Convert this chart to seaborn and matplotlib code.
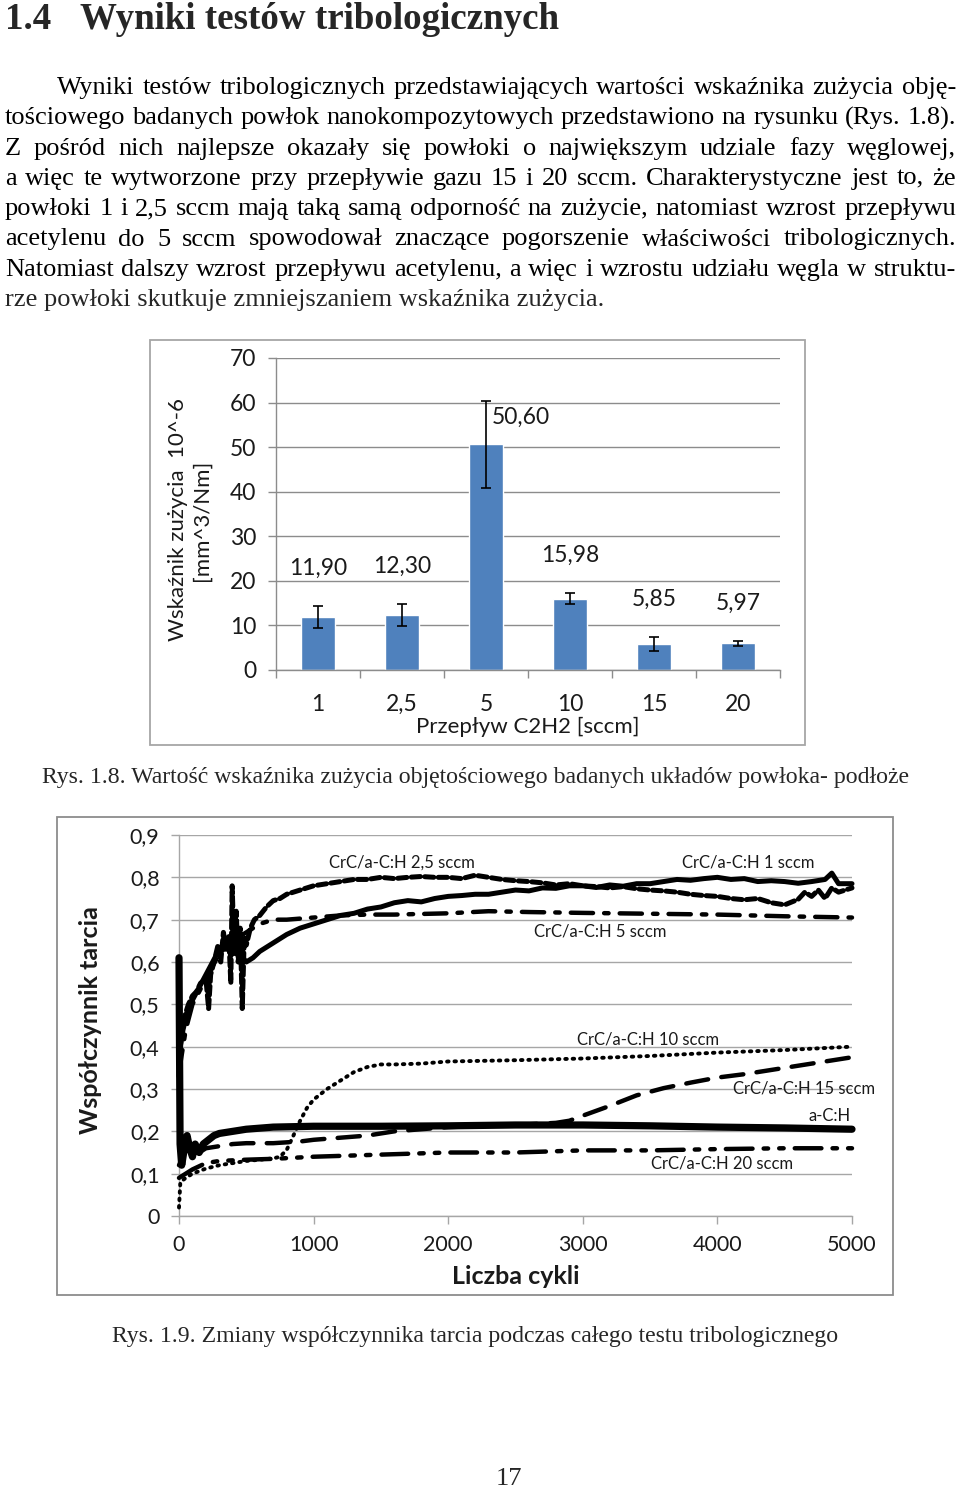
import numpy as np
import pandas as pd
import matplotlib
matplotlib.use("Agg")
import matplotlib.pyplot as plt
from matplotlib.patches import Rectangle
import seaborn as sns

# ---------------- data ----------------
flow_cats = ["1", "2,5", "5", "10", "15", "20"]
wear_vals = [11.90, 12.30, 50.60, 15.98, 5.85, 5.97]
wear_err = [2.4, 2.4, 9.8, 1.2, 1.6, 0.5]
wear_labels = ["11,90", "12,30", "50,60", "15,98", "5,85", "5,97"]

s_1 = [(0, 0.33), (10, 0.40), (30, 0.44), (60, 0.48), (100, 0.51), (150, 0.54), (200, 0.57), (250, 0.60),
       (300, 0.63), (350, 0.65), (400, 0.64), (450, 0.62), (500, 0.60), (550, 0.61), (600, 0.625), (700, 0.645),
       (800, 0.665), (900, 0.68), (1000, 0.69), (1100, 0.70), (1200, 0.71), (1300, 0.715), (1400, 0.725),
       (1500, 0.73), (1600, 0.74), (1700, 0.745), (1800, 0.742), (1900, 0.75), (2000, 0.755), (2100, 0.757),
       (2200, 0.76), (2300, 0.76), (2400, 0.765), (2500, 0.77), (2600, 0.768), (2700, 0.775), (2800, 0.774),
       (2900, 0.78), (3000, 0.78), (3100, 0.776), (3200, 0.782), (3300, 0.779), (3400, 0.785), (3500, 0.785),
       (3600, 0.79), (3700, 0.795), (3800, 0.793), (3900, 0.797), (4000, 0.80), (4100, 0.795), (4200, 0.797),
       (4300, 0.79), (4400, 0.792), (4500, 0.79), (4600, 0.786), (4700, 0.79), (4800, 0.795), (4850, 0.81),
       (4900, 0.785), (5000, 0.785)]
s_25 = [(0, 0.36), (20, 0.44), (40, 0.47), (70, 0.50), (100, 0.52), (130, 0.53), (160, 0.55), (200, 0.56),
        (220, 0.49), (235, 0.57), (260, 0.60), (290, 0.64), (310, 0.60), (330, 0.67), (350, 0.63), (370, 0.66),
        (385, 0.55), (395, 0.78), (410, 0.62), (425, 0.72), (440, 0.60), (455, 0.68), (470, 0.49), (485, 0.66),
        (500, 0.64), (530, 0.68), (560, 0.70), (600, 0.71), (650, 0.73), (700, 0.745), (750, 0.75), (800, 0.76),
        (900, 0.77), (1000, 0.78), (1100, 0.785), (1200, 0.79), (1300, 0.795), (1400, 0.795), (1500, 0.80),
        (1600, 0.797), (1700, 0.80), (1800, 0.802), (1900, 0.80), (2000, 0.80), (2100, 0.797), (2200, 0.805),
        (2300, 0.80), (2400, 0.795), (2500, 0.792), (2600, 0.79), (2700, 0.787), (2800, 0.782), (2900, 0.785),
        (3000, 0.78), (3100, 0.778), (3200, 0.775), (3300, 0.778), (3400, 0.773), (3500, 0.77), (3600, 0.768),
        (3700, 0.765), (3800, 0.76), (3900, 0.757), (4000, 0.755), (4100, 0.75), (4200, 0.747), (4300, 0.75),
        (4400, 0.74), (4500, 0.735), (4600, 0.748), (4650, 0.765), (4700, 0.755), (4750, 0.77), (4800, 0.75),
        (4850, 0.775), (4900, 0.765), (5000, 0.775)]
s_5 = [(0, 0.34), (50, 0.44), (100, 0.50), (200, 0.56), (300, 0.62), (400, 0.65), (500, 0.67), (600, 0.69),
       (700, 0.70), (800, 0.70), (1000, 0.705), (1200, 0.71), (1400, 0.712), (1600, 0.712), (2000, 0.715),
       (2300, 0.72), (2600, 0.718), (3000, 0.716), (3500, 0.714), (4000, 0.712), (4500, 0.708), (5000, 0.705)]
s_10 = [(0, 0.02), (5, 0.05), (10, 0.08), (50, 0.09), (100, 0.10), (200, 0.112), (300, 0.12), (400, 0.125),
        (500, 0.13), (600, 0.133), (700, 0.136), (750, 0.14), (800, 0.156), (850, 0.19), (900, 0.225),
        (950, 0.255), (1000, 0.275), (1100, 0.30), (1200, 0.32), (1300, 0.34), (1400, 0.352), (1500, 0.358),
        (1600, 0.358), (1800, 0.36), (2000, 0.365), (2500, 0.368), (3000, 0.372), (3500, 0.378), (4000, 0.386),
        (4500, 0.392), (5000, 0.40)]
s_15 = [(0, 0.12), (30, 0.14), (60, 0.17), (100, 0.16), (150, 0.15), (200, 0.16), (300, 0.165), (400, 0.17),
        (500, 0.172), (700, 0.172), (900, 0.176), (1000, 0.18), (1200, 0.185), (1400, 0.19), (1600, 0.20),
        (2000, 0.21), (2500, 0.215), (2800, 0.22), (2900, 0.225), (3000, 0.237), (3200, 0.26), (3400, 0.285),
        (3600, 0.302), (3800, 0.315), (4000, 0.327), (4200, 0.335), (4500, 0.35), (4800, 0.365), (5000, 0.375)]
s_20 = [(0, 0.09), (100, 0.11), (200, 0.125), (300, 0.13), (500, 0.133), (700, 0.135), (1000, 0.14),
        (1500, 0.145), (2000, 0.15), (2500, 0.15), (3000, 0.155), (3500, 0.155), (4000, 0.158), (4500, 0.16),
        (5000, 0.16)]
s_ach = [(0, 0.61), (8, 0.17), (20, 0.12), (40, 0.16), (60, 0.19), (80, 0.16), (100, 0.14), (120, 0.17),
         (150, 0.15), (180, 0.17), (220, 0.18), (260, 0.19), (300, 0.195), (400, 0.20), (500, 0.205),
         (700, 0.21), (1000, 0.212), (1500, 0.212), (2000, 0.213), (2500, 0.215), (3000, 0.215), (3500, 0.213),
         (4000, 0.21), (4500, 0.208), (5000, 0.205)]

series_names = ["CrC/a-C:H 1 sccm", "CrC/a-C:H 2,5 sccm", "CrC/a-C:H 5 sccm", "CrC/a-C:H 10 sccm",
                "CrC/a-C:H 15 sccm", "CrC/a-C:H 20 sccm", "a-C:H"]
series_data = [s_1, s_25, s_5, s_10, s_15, s_20, s_ach]

y_ticks_mu = [0, 0.1, 0.2, 0.3, 0.4, 0.5, 0.6, 0.7, 0.8, 0.9]
y_ticklabels_mu = ["0", "0,1", "0,2", "0,3", "0,4", "0,5", "0,6", "0,7", "0,8", "0,9"]
x_ticks_cyc = [0, 1000, 2000, 3000, 4000, 5000]

heading_num = "1.4"
heading_txt = "Wyniki testów tribologicznych"
para_lines = [
    "Wyniki testów tribologicznych przedstawiających wartości wskaźnika zużycia obję-",
    "tościowego badanych powłok nanokompozytowych przedstawiono na rysunku (Rys. 1.8).",
    "Z pośród nich najlepsze okazały się powłoki o największym udziale fazy węglowej,",
    "a więc te wytworzone przy przepływie gazu 15 i 20 sccm. Charakterystyczne jest to, że",
    "powłoki 1 i 2,5 sccm mają taką samą odporność na zużycie, natomiast wzrost przepływu",
    "acetylenu do 5 sccm spowodował znaczące pogorszenie właściwości tribologicznych.",
    "Natomiast dalszy wzrost przepływu acetylenu, a więc i wzrostu udziału węgla w struktu-",
    "rze powłoki skutkuje zmniejszaniem wskaźnika zużycia.",
]
caption1 = "Rys. 1.8. Wartość wskaźnika zużycia objętościowego badanych układów powłoka- podłoże"
caption2 = "Rys. 1.9. Zmiany współczynnika tarcia podczas całego testu tribologicznego"
page_no = "17"

# ---------------- style ----------------
sns.set_style("white")
plt.rcParams["font.family"] = ["Lato", "DejaVu Sans"]
SERIF = ["Liberation Serif", "DejaVu Serif"]
TXT = "#1a1a1a"

W, H = 960, 1488
fig = plt.figure(figsize=(W / 100, H / 100), dpi=100)
fig.patch.set_facecolor("white")
renderer = fig.canvas.get_renderer()


def fx(x):
    return x / W


def fy(y):
    return 1 - y / H


def text_w(s, fs, weight="normal", family=SERIF):
    t = fig.text(0, 0, s, fontsize=fs, family=family, weight=weight)
    w = t.get_window_extent(renderer).width
    t.remove()
    return w


def justify(line, x0, x1, ybase, fs):
    words = line.split(" ")
    ws = [text_w(w, fs) for w in words]
    gap = (x1 - x0 - sum(ws)) / (len(words) - 1)
    x = x0
    for w, wd in zip(words, ws):
        fig.text(fx(x), fy(ybase), w, fontsize=fs, family=SERIF, ha="left", va="baseline", color="black")
        x += wd + gap


# ---------------- page text ----------------
fs_head = 10 * 480 / text_w(heading_txt, 10, weight="bold")
fig.text(fx(5), fy(29), heading_num, fontsize=fs_head, family=SERIF, weight="bold", va="baseline")
fig.text(fx(80), fy(29), heading_txt, fontsize=fs_head, family=SERIF, weight="bold", va="baseline")

fs_body = 10 * 598 / text_w(para_lines[-1], 10)
base0 = 94
pitch = 30.3
for i, line in enumerate(para_lines):
    yb = base0 + i * pitch
    if i == len(para_lines) - 1:
        fig.text(fx(5), fy(yb), line, fontsize=fs_body, family=SERIF, ha="left", va="baseline")
    elif i == 0:
        justify(line, 57, 956, yb, fs_body)
    else:
        justify(line, 5, 956, yb, fs_body)

fs_cap = 10 * 726 / text_w(caption2, 10)
fig.text(fx(476), fy(783), caption1, fontsize=fs_cap, family=SERIF, ha="center", va="baseline")
fig.text(fx(475), fy(1342), caption2, fontsize=fs_cap, family=SERIF, ha="center", va="baseline")
fig.text(fx(509), fy(1485), page_no, fontsize=fs_body, family=SERIF, ha="center", va="baseline")

# ---------------- bar chart ----------------
fig.add_artist(Rectangle((fx(150), fy(745)), 655 / W, 405 / H, transform=fig.transFigure,
                         fill=False, ec="#a6a6a6", lw=1.3))
axb = fig.add_axes([fx(276), fy(670), 504 / W, 312 / H])
dfb = pd.DataFrame({"flow": flow_cats, "wear": wear_vals})
sns.barplot(data=dfb, x="flow", y="wear", order=flow_cats, color="#4F81BD", saturation=1,
            width=0.4, errorbar=None, ax=axb, zorder=2)
axb.errorbar(np.arange(len(flow_cats)), wear_vals, yerr=wear_err, fmt="none", ecolor="black",
             elinewidth=1.2, capsize=3.5, capthick=1.2, zorder=3)
axb.set_xlim(-0.5, len(flow_cats) - 0.5)
axb.set_ylim(0, 70)
axb.set_yticks(range(0, 71, 10))
axb.yaxis.grid(True, color="#8c8c8c", lw=1)
axb.set_axisbelow(True)
for s in ["top", "right"]:
    axb.spines[s].set_visible(False)
for s in ["left", "bottom"]:
    axb.spines[s].set_color("#8c8c8c")
    axb.spines[s].set_linewidth(1)
FSB = 16.5
axb.tick_params(axis="y", left=True, length=6, width=1, color="#8c8c8c", pad=8, labelsize=FSB, labelcolor=TXT)
axb.tick_params(axis="x", which="major", bottom=False, length=0, pad=17, labelsize=FSB, labelcolor=TXT)
axb.set_xticks(np.arange(-0.5, len(flow_cats), 1), minor=True)
axb.tick_params(axis="x", which="minor", bottom=True, length=6, width=1, color="#8c8c8c")
axb.set_ylabel("Wskaźnik zużycia  10^-6\n[mm^3/Nm]", fontsize=16, color=TXT, linespacing=1.25,
               ha="center", va="center")
axb.yaxis.set_label_coords((190 - 276) / 504, (670 - 520) / 312)
axb.set_xlabel("Przepływ C2H2 [sccm]", fontsize=16, color=TXT, va="center")
axb.xaxis.set_label_coords(0.5, (670 - 727) / 312)
for i, (v, e, lab) in enumerate(zip(wear_vals, wear_err, wear_labels)):
    if v + e > 40:
        axb.text(i + 0.42, v + 6, lab, ha="center", va="center", fontsize=FSB, color=TXT)
    else:
        axb.text(i, v + e + 8.5, lab, ha="center", va="center", fontsize=FSB, color=TXT)

# ---------------- friction chart ----------------
fig.add_artist(Rectangle((fx(57), fy(1295)), 836 / W, 478 / H, transform=fig.transFigure,
                         fill=False, ec="#8c8c8c", lw=1.3))
axl = fig.add_axes([fx(179), fy(1216), 673 / W, 381 / H])
rows = []
for name, pts in zip(series_names, series_data):
    for x, y in pts:
        rows.append((name, x, y))
dfl = pd.DataFrame(rows, columns=["series", "cycles", "mu"])

styles = {
    "CrC/a-C:H 1 sccm": dict(lw=3.6, ls="-"),
    "CrC/a-C:H 2,5 sccm": dict(lw=3.6, ls=(0, (1.8, 0.9))),
    "CrC/a-C:H 5 sccm": dict(lw=3.2, ls=(0, (5, 2.5, 1, 2.5))),
    "CrC/a-C:H 10 sccm": dict(lw=2.8, ls=(0, (0.4, 1.5))),
    "CrC/a-C:H 15 sccm": dict(lw=3.2, ls=(0, (5, 3))),
    "CrC/a-C:H 20 sccm": dict(lw=3.2, ls=(0, (6, 2.5, 1, 2.5, 1, 2.5))),
    "a-C:H": dict(lw=5.2, ls="-"),
}
for name in series_names:
    sub = dfl[dfl["series"] == name]
    st = styles[name]
    sns.lineplot(data=sub, x="cycles", y="mu", ax=axl, color="black", estimator=None,
                 linewidth=st["lw"], zorder=3)
    ln = axl.lines[-1]
    ln.set_linestyle(st["ls"])
    ln.set_dash_capstyle("round")
    ln.set_solid_capstyle("round")
    ln.set_clip_on(False)

axl.set_xlim(0, 5000)
axl.set_ylim(0, 0.9)
axl.set_yticks(y_ticks_mu)
axl.set_yticklabels(y_ticklabels_mu)
axl.set_xticks(x_ticks_cyc)
axl.set_xticklabels([str(v) for v in x_ticks_cyc])
axl.yaxis.grid(True, color="#a6a6a6", lw=1)
axl.set_axisbelow(True)
for s in ["top", "right"]:
    axl.spines[s].set_visible(False)
for s in ["left", "bottom"]:
    axl.spines[s].set_color("#a6a6a6")
    axl.spines[s].set_linewidth(1)
FSL = 15.5
axl.tick_params(axis="y", left=True, length=6, width=1, color="#a6a6a6", pad=8, labelsize=FSL, labelcolor=TXT)
axl.tick_params(axis="x", bottom=True, length=6, width=1, color="#a6a6a6", pad=8, labelsize=FSL, labelcolor=TXT)
axl.set_ylabel("Współczynnik tarcia", fontsize=18, weight="bold", color=TXT, ha="center", va="center")
axl.yaxis.set_label_coords((90 - 179) / 673, (1216 - 1020) / 381)
axl.set_xlabel("Liczba cykli", fontsize=18, weight="bold", color=TXT, va="center")
axl.xaxis.set_label_coords(0.5, (1216 - 1276) / 381)

label_pos = {
    "CrC/a-C:H 2,5 sccm": (1657, 0.834),
    "CrC/a-C:H 1 sccm": (4227, 0.834),
    "CrC/a-C:H 5 sccm": (3128, 0.673),
    "CrC/a-C:H 10 sccm": (3484, 0.418),
    "CrC/a-C:H 15 sccm": (4643, 0.300),
    "a-C:H": (4837, 0.236),
    "CrC/a-C:H 20 sccm": (4034, 0.125),
}
for name in series_names:
    x, y = label_pos[name]
    axl.text(x, y, name, ha="center", va="center", fontsize=12, color=TXT, clip_on=False)

fig.savefig("out.png", dpi=100, facecolor="white")
